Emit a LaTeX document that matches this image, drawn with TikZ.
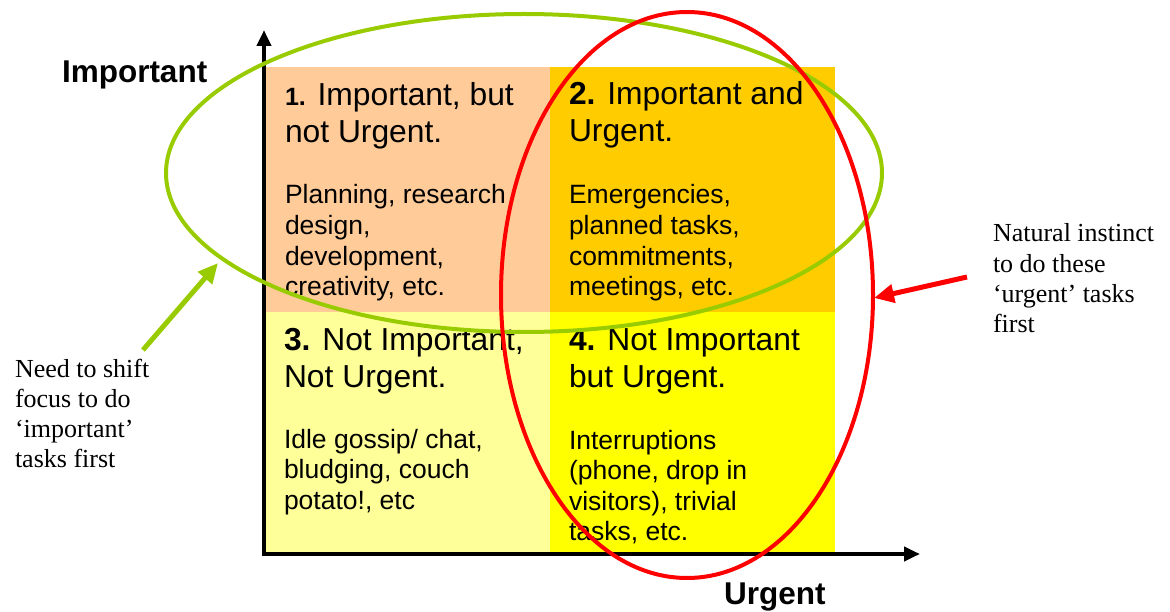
\documentclass[tikz,border=0pt]{standalone}
\usepackage{fontspec}
\setmainfont{Liberation Serif}
\setsansfont{Liberation Sans}
\usetikzlibrary{arrows.meta}
\definecolor{qpeach}{HTML}{FFCC99}
\definecolor{qorange}{HTML}{FFCC00}
\definecolor{qpale}{HTML}{FFFF99}
\definecolor{qyellow}{HTML}{FFFF00}
\definecolor{focusgreen}{HTML}{99CC00}
\definecolor{focusred}{HTML}{FF0000}
\newcommand{\qlines}[1]{\begin{tabular}[t]{@{}l@{}}#1\end{tabular}}
\begin{document}
\begin{tikzpicture}[x=1pt,y=-1pt,inner sep=0pt,outer sep=0pt,
quad/.style={rectangle,anchor=north west,minimum width=285pt},
qtitle/.style={anchor=base west,font=\sffamily\fontsize{31.8}{37}\selectfont},
qbody/.style={anchor=base west,font=\sffamily\fontsize{26.5}{30.6}\selectfont},
axislabel/.style={anchor=base west,font=\sffamily\bfseries\fontsize{31.5}{36}\selectfont},
note/.style={anchor=base west,font=\rmfamily\fontsize{26}{30.3}\selectfont},
axis/.style={line width=4pt,-{Triangle[length=16pt,width=14pt]}},
focus/.style={line width=4pt},
focusarrow/.style={line width=5pt,-{Triangle[length=20pt,width=18pt]}}]
\useasboundingbox (0,0) rectangle (1170,612);

\draw (265,67) node[quad,fill=qpeach,minimum height=245pt] (q1) {};
\draw (550,67) node[quad,fill=qorange,minimum height=245pt] (q2) {};
\draw (265,312) node[quad,fill=qpale,minimum height=240pt] (q3) {};
\draw (550,312) node[quad,fill=qyellow,minimum height=240pt] (q4) {};

\draw (285,106) node[qtitle] (t1) {\qlines{{\bfseries\fontsize{25}{37}\selectfont 1.} Important, but\\not Urgent.}};
\draw (569,105) node[qtitle] (t2) {\qlines{\textbf{2.} Important and\\Urgent.}};
\draw (284,350) node[qtitle] (t3) {\qlines{\textbf{3.} Not Important,\\Not Urgent.}};
\draw (569,350) node[qtitle] (t4) {\qlines{\textbf{4.} Not Important\\but Urgent.}};

\draw (285,204) node[qbody] (b1) {\qlines{Planning, research\\design,\\development,\\creativity, etc.}};
\draw (569,204) node[qbody] (b2) {\qlines{Emergencies,\\planned tasks,\\commitments,\\meetings, etc.}};
\draw (284,448) node[qbody] (b3) {\qlines{Idle gossip/ chat,\\bludging, couch\\potato!, etc}};
\draw (569,449) node[qbody] (b4) {\qlines{Interruptions\\(phone, drop in\\visitors), trivial\\tasks, etc.}};

% axes
\coordinate (origin) at (264,554);
\coordinate (ytip) at (264,30);
\coordinate (xtip) at (920,554);
\draw[axis] ([yshift=-2pt]origin) -- (ytip);
\draw[axis] ([xshift=-2pt]origin) -- (xtip);
\draw (62,83) node[axislabel] (imp) {Important};
\draw (724,604) node[axislabel] (urg) {Urgent};

% focus rings
\draw[focus,focusgreen] (524,173) ellipse [x radius=358pt,y radius=159pt];
\draw[focus,focusred] (687,295) ellipse [x radius=186pt,y radius=283pt];

\draw (15,377) node[note] (needtxt) {\qlines{Need to shift\\focus to do\\‘important’\\tasks first}};
\draw (993,242) node[note] (natxt) {\qlines{Natural instinct\\to do these\\‘urgent’ tasks\\first}};

\coordinate (needtail) at (143,350);
\coordinate (needtip) at (218,263);
\coordinate (natail) at (967,277);
\coordinate (natip) at (874,298);
\draw[focusarrow,focusgreen] (needtail) -- (needtip);
\draw[focusarrow,focusred] (natail) -- (natip);
\end{tikzpicture}
\end{document}
